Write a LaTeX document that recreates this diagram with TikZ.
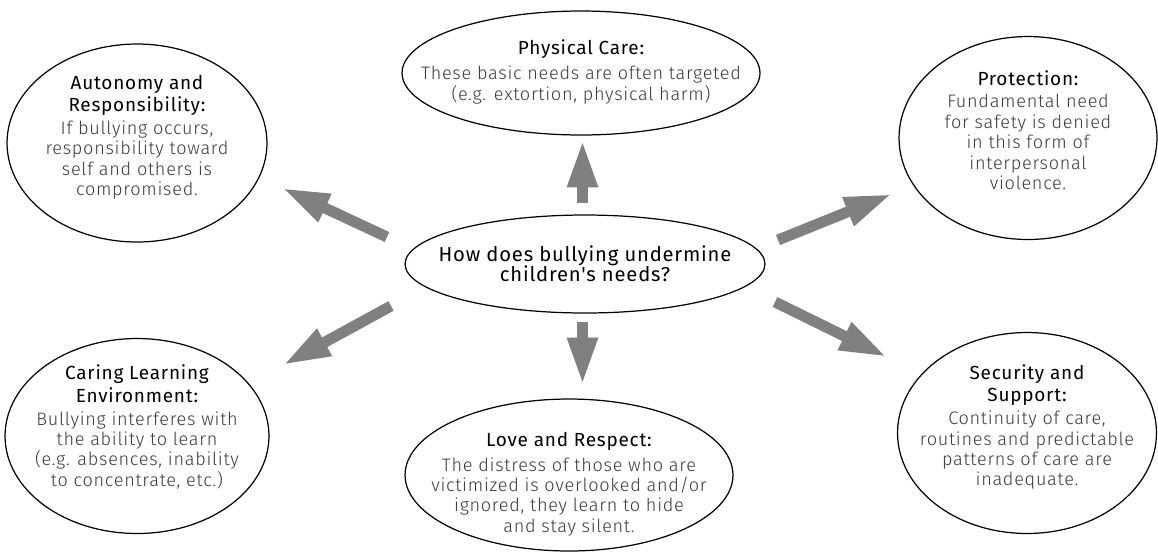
\documentclass[tikz,border=0pt]{standalone}
\usepackage{fontspec}
\setmainfont[LetterSpace=4]{Fira Sans Light}
\newfontfamily\headfont[LetterSpace=4]{Fira Sans}
\usetikzlibrary{arrows.meta,shapes.geometric}

\definecolor{arrowgray}{HTML}{808080}
\definecolor{bodygray}{HTML}{3A3A3A}

% heading line inside a bubble
\newcommand{\hd}[1]{\textcolor{black}{\headfont\fontsize{10.8}{11.6}\selectfont #1}}

\tikzset{
  bubble/.style 2 args={ellipse, draw=black, line width=0.7pt, inner sep=0pt,
    minimum width=#1, minimum height=#2},
  bubbletext/.style={align=center, inner sep=0pt, text=bodygray,
    font=\fontsize{10.3}{11.6}\selectfont},
  needarrow/.style={draw=arrowgray, line width=6.2pt,
    -{Triangle[length=27pt,width=16pt]}}
}

\begin{document}
\begin{tikzpicture}[x=0.02cm,y=-0.02cm]
\useasboundingbox (0,0) rectangle (1158,552);

% outlines of the seven bubbles
\node[bubble={7.2cm}{1.96cm}]  (qE)    at (585,264) {};
\node[bubble={7.16cm}{2.48cm}] (physE) at (581,73)  {};
\node[bubble={5.2cm}{3.96cm}]  (autoE) at (137,143) {};
\node[bubble={5.16cm}{4.06cm}] (protE) at (1028,138) {};
\node[bubble={5.28cm}{3.9cm}]  (careE) at (137,436) {};
\node[bubble={5.18cm}{4.02cm}] (secE)  at (1027,433) {};
\node[bubble={6.56cm}{3.04cm}] (loveE) at (569,475) {};

% texts
\node[bubbletext, text=black, font=\headfont\fontsize{11.5}{11.6}\selectfont] (qT) at (585,264)
  {How does bullying undermine\\children's needs?};

\node[bubbletext] (physT) at (581,72)
  {\hd{Physical Care:}\\[2.5pt]These basic needs are often targeted\\(e.g. extortion, physical harm)};

\node[bubbletext] (autoT) at (137,137)
  {\hd{Autonomy and}\\[1.3pt]\hd{Responsibility:}\\[1.3pt]If bullying occurs,\\responsibility toward\\self and others is\\compromised.};

\node[bubbletext] (protT) at (1028,130)
  {\hd{Protection:}\\[1.3pt]Fundamental need\\for safety is denied\\in this form of\\interpersonal\\violence.};

\node[bubbletext] (careT) at (137,427)
  {\hd{Caring Learning}\\[1.3pt]\hd{Environment:}\\[1.3pt]Bullying interferes with\\the ability to learn\\(e.g. absences, inability\\to concentrate, etc.)};

\node[bubbletext] (secT) at (1027,427)
  {\hd{Security and}\\[1.3pt]\hd{Support:}\\[1.3pt]Continuity of care,\\routines and predictable\\patterns of care are\\inadequate.};

\node[bubbletext] (loveT) at (569,484)
  {\hd{Love and Respect:}\\[2.5pt]The distress of those who are\\victimized is overlooked and/or\\ignored, they learn to hide\\and stay silent.};

% arrow ends around the central question
\coordinate (upTail) at (582.5,203);  \coordinate (upTip) at (582.5,140);
\coordinate (dnTail) at (582.5,322);  \coordinate (dnTip) at (582.5,385);
\coordinate (ulTail) at (387,237);    \coordinate (ulTip) at (282,188);
\coordinate (llTail) at (391,306);    \coordinate (llTip) at (283,365);
\coordinate (urTail) at (778,240);    \coordinate (urTip) at (892,194);
\coordinate (lrTail) at (775,302);    \coordinate (lrTip) at (887,357);

\draw[needarrow] (upTail) -- (upTip);
\draw[needarrow] (dnTail) -- (dnTip);
\draw[needarrow] (ulTail) -- (ulTip);
\draw[needarrow] (llTail) -- (llTip);
\draw[needarrow] (urTail) -- (urTip);
\draw[needarrow] (lrTail) -- (lrTip);
\end{tikzpicture}
\end{document}
